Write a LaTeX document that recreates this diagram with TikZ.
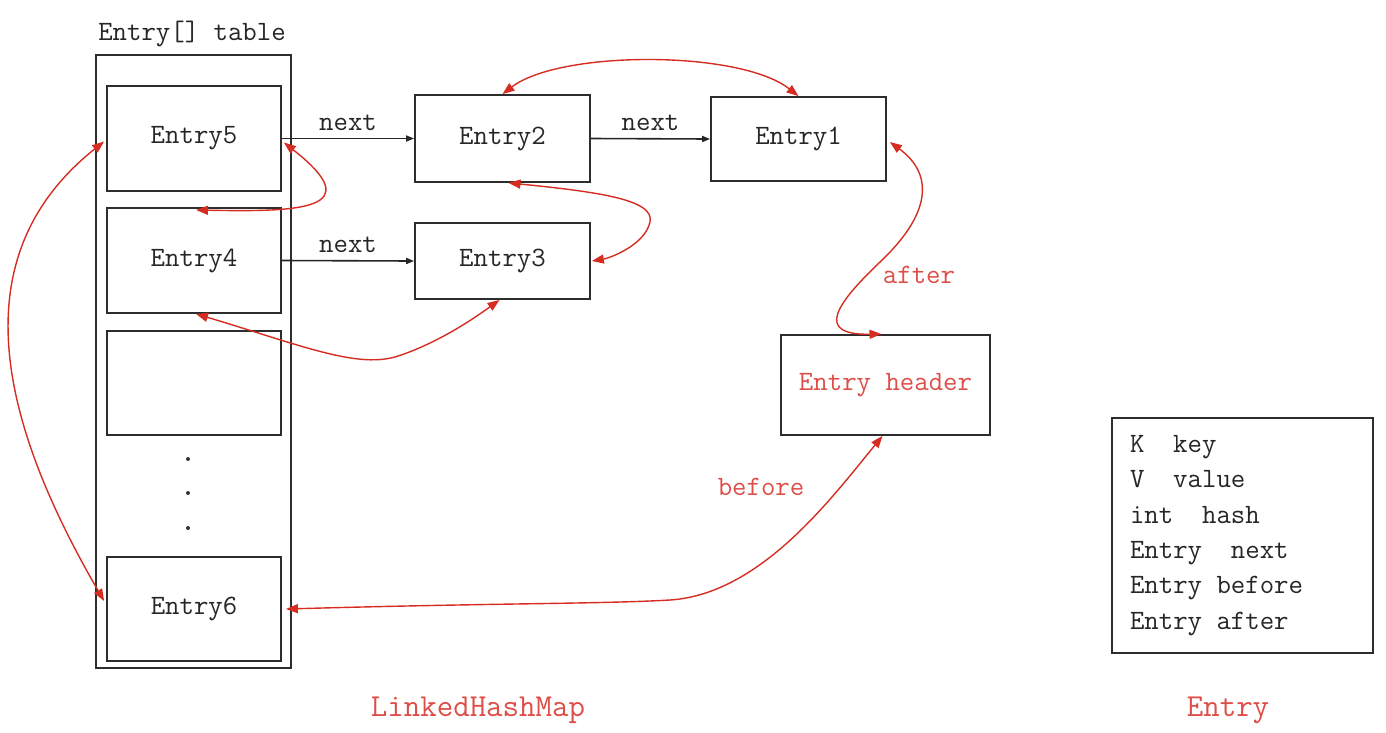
\documentclass[tikz,border=0pt]{standalone}
\usepackage{fontspec}
\usetikzlibrary{arrows.meta}
\definecolor{redline}{RGB}{214,45,35}
\definecolor{redtext}{RGB}{222,78,72}
\definecolor{boxline}{RGB}{45,45,45}
\newcommand\chsp{\hphantom{0}}
\begin{document}
\begin{tikzpicture}[x=1pt,y=-1pt,
  font=\ttfamily\fontsize{28}{34}\selectfont,
  box/.style={draw=boxline, line width=1.8pt, inner sep=0pt, rectangle, fill=white},
  entrybox/.style={box, minimum width=174pt, minimum height=105pt},
  nextarrow/.style={draw=black!85, line width=1.6pt, -{Triangle[length=8pt,width=6pt]}},
  link/.style={draw=redline, line width=1.4pt, {Triangle[length=12pt,width=9pt]}-{Triangle[length=12pt,width=9pt]}},
  lbl/.style={inner sep=0pt, text=black!85},
  redlbl/.style={inner sep=0pt, text=redtext}]
\useasboundingbox[fill=white] (0,0) rectangle (1386,732);

% table
\node[lbl] (tablelbl) at (192,34) {Entry[] table};
\node[box, minimum width=195pt, minimum height=613pt] (table) at (193.5,361.5) {};
\node[entrybox, text=black!85] (e5) at (194,138.5) {Entry5};
\node[entrybox, text=black!85] (e4) at (194,260.5) {Entry4};
\node[entrybox, minimum height=104pt] (eempty) at (194,383) {};
\node[entrybox, minimum height=104pt, text=black!85] (e6) at (194,609) {Entry6};
\fill[black!80] (188,459) circle (2pt) (188,493) circle (2pt) (188,528) circle (2pt);

% chained entries
\node[box, minimum width=175pt, minimum height=87pt, text=black!85] (e2) at (502.5,138.5) {Entry2};
\node[box, minimum width=175pt, minimum height=76pt, text=black!85] (e3) at (502.5,261) {Entry3};
\node[box, minimum width=175pt, minimum height=84pt, text=black!85] (e1) at (798.5,139) {Entry1};
\node[box, minimum width=209pt, minimum height=100pt, text=redtext] (hdr) at (885.5,385) {Entry header};

% next arrows
\draw[nextarrow] (e5.east) -- node[lbl, above=7pt] (n1) {next} (e2.west);
\draw[nextarrow] (e2.east) -- node[lbl, above=7pt] (n2) {next} (e1.west);
\draw[nextarrow] (e4.east) -- node[lbl, above=7pt] (n3) {next} (e3.west);

% red links
\draw[link] (e2.north) .. controls (560,50) and (740,50) .. (e1.north);
\draw[link] ([yshift=-4pt,xshift=2pt]e5.east) .. controls (370,210) and (300,212) .. (196,210);
\draw[link] ([xshift=6pt]e2.south) .. controls (600,192) and (655,200) .. (650,222)
            .. controls (645,245) and (610,258) .. ([xshift=1pt]e3.east);
\draw[link] ([xshift=2pt]e4.south) .. controls (300,345) and (355,368) .. (395,357)
            .. controls (440,343) and (480,314) .. ([xshift=-3pt]e3.south);
\draw[link] ([yshift=-3pt,xshift=-2pt]e5.west) .. controls (-45,260) and (5,430) .. ([yshift=8pt,xshift=-2pt]e6.west);
\draw[link] ([xshift=4pt]e6.east) .. controls (500,603) and (600,604) .. (670,600)
            .. controls (760,594) and (830,500) .. ([xshift=-3pt]hdr.south);
\draw[link] ([yshift=-3pt,xshift=3pt]e1.east) .. controls (935,175) and (930,215) .. (880,262)
            .. controls (835,305) and (815,335) .. ([xshift=-4pt]hdr.north);
\node[redlbl] (after) at (919,275) {after};
\node[redlbl] (before) at (761,487) {before};

% Entry structure
\node[box, text width=225pt, inner xsep=18pt, minimum height=235pt, align=left,
      text=black!85, font=\ttfamily\fontsize{28}{35.4}\selectfont] (entry) at (1242.5,535.5)
  {K\chsp\chsp key\\V\chsp\chsp value\\int\chsp\chsp hash\\Entry\chsp\chsp next\\Entry\chsp before\\Entry\chsp after};

% captions
\node[redlbl, font=\ttfamily\fontsize{32}{38}\selectfont] (cap1) at (478,710) {LinkedHashMap};
\node[redlbl, font=\ttfamily\fontsize{32}{38}\selectfont] (cap2) at (1228,710) {Entry};
\end{tikzpicture}
\end{document}
